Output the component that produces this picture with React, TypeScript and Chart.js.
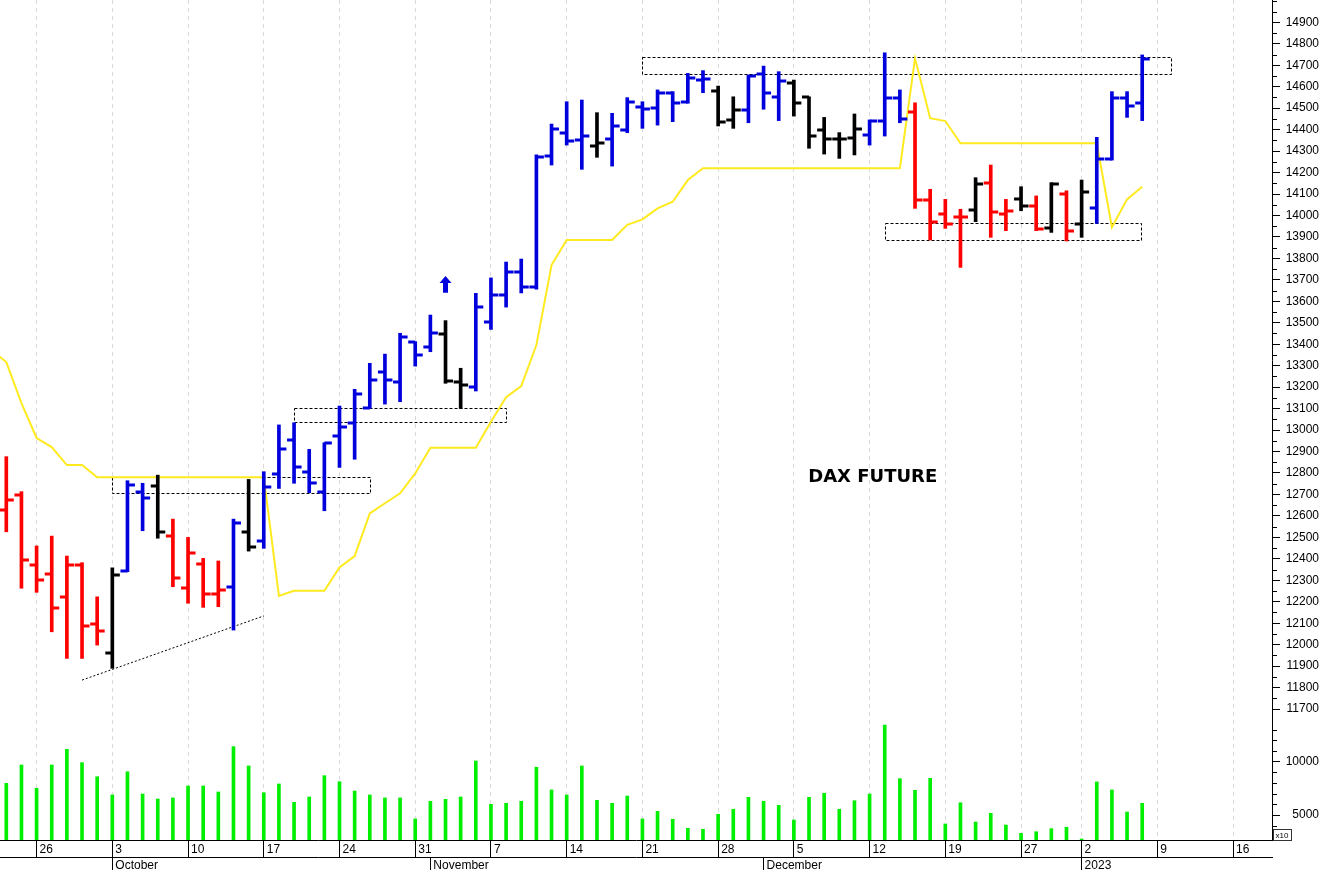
import React, { useEffect, useRef } from 'react';
import { Chart, registerables } from 'chart.js';

Chart.register(...registerables);

// Trading-day index: 0 = 22 Sep 2022 ... 75 = 6 Jan 2023
const opens = [
  12627, 12697,
  12371, 12328, 12223, 12371, 12096,
  11960, 12343, 12713, 12739, 12506,
  12263, 12374, 12235, 12270, 12524,
  12483, 12795, 12954, 12803, 12713,
  12972, 13034, 13101, 13272, 13225,
  13412, 13388, 13448, 13225, 13202,
  13505, 13629, 13736, 13668, 14277,
  14383, 14352, 14324, 14355, 14398,
  14504, 14499, 14572, 14530, 14631,
  14581, 14445, 14491, 14659, 14553,
  14619, 14551, 14398, 14356, 14362,
  14375, 14440, 14549, 14482, 14072,
  14007, 13994, 14025, 14153, 14005,
  14075, 14044, 13943, 14099,
  13959, 14033, 14262, 14549, 14525,
];
const highs = [
  12876, 12713,
  12460, 12506, 12413, 12382, 12223,
  12358, 12764, 12752, 12790, 12585,
  12500, 12402, 12390, 12585, 12770,
  12806, 13024, 13034, 12910, 12941,
  13112, 13190, 13311, 13354, 13451,
  13412, 13536, 13510, 13288, 13637,
  13709, 13783, 13797, 14282, 14426,
  14530, 14538, 14479, 14476, 14549,
  14530, 14585, 14577, 14662, 14675,
  14603, 14553, 14654, 14696, 14670,
  14631, 14553, 14457, 14386, 14473,
  14445, 14758, 14585, 14525, 14122,
  14075, 14029, 14176, 14235, 14075,
  14134, 14091, 14153, 14115,
  14165, 14364, 14577, 14577, 14748,
];
const lows = [
  12526, 12263,
  12244, 12060, 11936, 11936, 11998,
  11890, 12340, 12531, 12496, 12270,
  12193, 12174, 12177, 12068, 12436,
  12449, 12728, 12752, 12708, 12624,
  12826, 12864, 13101, 13121, 13132,
  13298, 13365, 13218, 13101, 13182,
  13469, 13573, 13639, 13656, 14235,
  14328, 14215, 14271, 14230, 14386,
  14406, 14421, 14437, 14523, 14572,
  14417, 14406, 14432, 14495, 14442,
  14463, 14313, 14286, 14266, 14282,
  14328, 14370, 14432, 14033, 13886,
  13940, 13758, 13971, 13898, 13929,
  14022, 13929, 13921, 13881,
  13898, 13963, 14258, 14457, 14442,
];
const closes = [
  12674, 12394,
  12301, 12169, 12371, 12087, 12065,
  12323, 12742, 12682, 12524, 12309,
  12426, 12235, 12255, 12565, 12454,
  12736, 12910, 12826, 12755, 12938,
  13016, 13167, 13233, 13233, 13435,
  13350, 13451, 13228, 13210, 13575,
  13629, 13736, 13667, 14274, 14401,
  14348, 14370, 14336, 14417, 14530,
  14495, 14572, 14523, 14639, 14634,
  14437, 14491, 14651, 14572, 14628,
  14523, 14372, 14356, 14356, 14401,
  14440, 14549, 14449, 14072, 13971,
  13959, 13994, 14145, 14018, 14022,
  14045, 13935, 14145, 13928,
  14111, 14262, 14549, 14510, 14728,
];
// bar colour code: r = red, k = black, b = blue
const trend = [
  'r', 'r',
  'r', 'r', 'r', 'r', 'r',
  'k', 'b', 'b', 'k', 'r',
  'r', 'r', 'r', 'b', 'k',
  'b', 'b', 'b', 'b', 'b',
  'b', 'b', 'b', 'b', 'b',
  'b', 'b', 'k', 'k', 'b',
  'b', 'b', 'b', 'b', 'b',
  'b', 'b', 'k', 'b', 'b',
  'b', 'b', 'b', 'b', 'b',
  'k', 'k', 'b', 'b', 'b',
  'k', 'k', 'k', 'k', 'k',
  'b', 'b', 'b', 'r', 'r',
  'r', 'r', 'k', 'r', 'r',
  'k', 'r', 'k', 'r',
  'k', 'b', 'b', 'b', 'b',
];
const volumes = [
  7970, 9690,
  7510, 9690, 11160, 9910, 8590,
  6880, 9060, 6970, 6500, 6600,
  7720, 7720, 7160, 11410, 9600,
  7090, 7910, 6190, 6690, 8690,
  8120, 7250, 6880, 6600, 6600,
  4630, 6290, 6470, 6690, 10070,
  6000, 6100, 6290, 9480, 7350,
  6880, 9600, 6380, 6100, 6780,
  4630, 5340, 4600, 3750, 3660,
  5070, 5540, 6660, 6290, 5910,
  4530, 6660, 7040, 5540, 6340,
  6970, 13440, 8410, 7320, 8440,
  4160, 6150, 4340, 5160, 4060,
  3280, 3430, 3720, 3850,
  2750, 8100, 7350, 5280, 6100,
];
// trailing stop line, first value is the session before index 0
const trail = [
  13373,
  13317, 13126,
  12963, 12921, 12837, 12837, 12780,
  12780, 12780, 12780, 12780, 12780,
  12780, 12780, 12780, 12780, 12780,
  12780, 12227, 12251, 12251, 12251,
  12360, 12413, 12612, 12659, 12705,
  12798, 12918, 12918, 12918, 12918,
  13039, 13153, 13205, 13396, 13769,
  13886, 13886, 13886, 13886, 13956,
  13982, 14033, 14064, 14165, 14220,
  14220, 14220, 14220, 14220, 14220,
  14220, 14220, 14220, 14220, 14220,
  14220, 14220, 14220, 14732, 14453,
  14440, 14336, 14336, 14336, 14336,
  14336, 14336, 14336, 14336,
  14336, 14336, 13945, 14075, 14134,
];

const weekTickIdx = [2, 7, 12, 17, 22, 27, 32, 37, 42, 47, 52, 57, 62, 67, 71, 76, 81];
const weekTickLabels = ['26', '3', '10', '17', '24', '31', '7', '14', '21', '28', '5', '12', '19', '27', '2', '9', '16'];
const monthTickIdx = [7, 28, 50, 71];
const monthTickLabels = ['October', 'November', 'December', '2023'];
const priceTicks = [
  11700, 11800, 11900, 12000, 12100, 12200, 12300, 12400, 12500, 12600, 12700,
  12800, 12900, 13000, 13100, 13200, 13300, 13400, 13500, 13600, 13700, 13800,
  13900, 14000, 14100, 14200, 14300, 14400, 14500, 14600, 14700, 14800, 14900,
];
const priceMinorTicks = [
  11650, 11750, 11850, 11950, 12050, 12150, 12250, 12350, 12450, 12550, 12650,
  12750, 12850, 12950, 13050, 13150, 13250, 13350, 13450, 13550, 13650, 13750,
  13850, 13950, 14050, 14150, 14250, 14350, 14450, 14550, 14650, 14750, 14850,
  14950, 15000,
];
const volTicks = [5000, 10000];
const volMinorTicks = [4000, 6000, 7000, 8000, 9000, 11000, 12000, 13000];

// annotation zones (dashed boxes)
const zoneStart = [7, 19, 42, 58];
const zoneEnd = [24, 33, 76.9, 74.9];
const zoneLow = [12705, 13039, 14658, 13886];
const zoneHigh = [12780, 13101, 14740, 13963];
const supportFrom = [5, 11835];
const supportTo = [17, 12134];
const arrowAt = [29, 13718, 13640];
const titleAt = [52.95, 12759];

const FONT = "'Liberation Sans', Arial, Helvetica, sans-serif";
const COLORS: Record<string, string> = { r: '#ff0000', k: '#000000', b: '#0000dd' };

export default function App() {
  const ref = useRef<HTMLCanvasElement>(null);

  useEffect(() => {
    document.body.style.margin = '0';
    const canvas = ref.current as HTMLCanvasElement;
    const idx = opens.map((_, i) => i);

    const zeroPad = (s: any) => {
      s.paddingLeft = 0;
      s.paddingRight = 0;
      s.paddingTop = 0;
      s.paddingBottom = 0;
    };

    const overlay = {
      id: 'overlay',
      beforeDatasetsDraw(chart: any) {
        const { ctx, chartArea } = chart;
        const xs = chart.scales.x;
        const ys = chart.scales.y;
        ctx.save();
        ctx.beginPath();
        ctx.rect(chartArea.left, chartArea.top, chartArea.right - chartArea.left, ys.bottom - chartArea.top);
        ctx.clip();
        ctx.strokeStyle = '#000';
        ctx.lineWidth = 1;
        ctx.setLineDash([3, 2]);
        for (let k = 0; k < zoneStart.length; k++) {
          const x0 = Math.round(xs.getPixelForValue(zoneStart[k])) + 0.5;
          const x1 = Math.round(xs.getPixelForValue(zoneEnd[k])) + 0.5;
          const y0 = Math.round(ys.getPixelForValue(zoneHigh[k])) + 0.5;
          const y1 = Math.round(ys.getPixelForValue(zoneLow[k])) + 0.5;
          ctx.strokeRect(x0, y0, x1 - x0, y1 - y0);
        }
        ctx.setLineDash([2, 2]);
        ctx.beginPath();
        ctx.moveTo(xs.getPixelForValue(supportFrom[0]), ys.getPixelForValue(supportFrom[1]));
        ctx.lineTo(xs.getPixelForValue(supportTo[0]), ys.getPixelForValue(supportTo[1]));
        ctx.stroke();
        ctx.restore();
      },
      afterDatasetsDraw(chart: any) {
        const { ctx } = chart;
        const xs = chart.scales.x;
        const ys = chart.scales.y;
        ctx.save();
        for (let i = 0; i < opens.length; i++) {
          const px = xs.getPixelForValue(i);
          ctx.fillStyle = COLORS[trend[i]];
          const po = Math.round(ys.getPixelForValue(opens[i]));
          const pc = Math.round(ys.getPixelForValue(closes[i]));
          ctx.fillRect(px - 7, po - 1.5, 7, 3);
          ctx.fillRect(px, pc - 1.5, 7.5, 3);
        }
        // signal arrow
        const ax = xs.getPixelForValue(arrowAt[0]);
        const yTip = ys.getPixelForValue(arrowAt[1]);
        const yBase = ys.getPixelForValue(arrowAt[2]);
        ctx.fillStyle = '#0000dd';
        ctx.beginPath();
        ctx.moveTo(ax, yTip);
        ctx.lineTo(ax + 6, yTip + 7);
        ctx.lineTo(ax + 2.5, yTip + 7);
        ctx.lineTo(ax + 2.5, yBase);
        ctx.lineTo(ax - 2.5, yBase);
        ctx.lineTo(ax - 2.5, yTip + 7);
        ctx.lineTo(ax - 6, yTip + 7);
        ctx.closePath();
        ctx.fill();
        // title
        ctx.fillStyle = '#000';
        ctx.font = "bold 18px 'DejaVu Sans', Verdana, sans-serif";
        ctx.textAlign = 'left';
        ctx.textBaseline = 'alphabetic';
        ctx.fillText('DAX FUTURE', xs.getPixelForValue(titleAt[0]), ys.getPixelForValue(titleAt[1]));
        ctx.restore();
      },
      afterDraw(chart: any) {
        const { ctx } = chart;
        const yp = chart.scales.y;
        const yv = chart.scales.yv;
        ctx.save();
        ctx.strokeStyle = '#000';
        ctx.lineWidth = 1;
        ctx.beginPath();
        for (const v of priceMinorTicks) {
          const py = Math.round(yp.getPixelForValue(v)) + 0.5;
          if (py < yp.top || py > yp.bottom) continue;
          ctx.moveTo(yp.left, py);
          ctx.lineTo(yp.left + 5, py);
        }
        for (const v of volMinorTicks) {
          const py = Math.round(yv.getPixelForValue(v)) + 0.5;
          if (py < yv.top || py > yv.bottom) continue;
          ctx.moveTo(yv.left, py);
          ctx.lineTo(yv.left + 5, py);
        }
        ctx.stroke();
        ctx.strokeStyle = '#333';
        ctx.strokeRect(yv.left + 1.5, yv.bottom - 10.5, 18, 11);
        ctx.fillStyle = '#000';
        ctx.font = `8px ${FONT}`;
        ctx.textAlign = 'left';
        ctx.textBaseline = 'alphabetic';
        ctx.fillText('x10', yv.left + 3.5, yv.bottom - 2);
        ctx.restore();
      },
    };

    const X_MIN = -0.416;
    const X_MAX = 83.57;

    const chart = new Chart(canvas, {
      type: 'bar',
      data: {
        datasets: [
          {
            type: 'bar',
            label: 'DAX Future',
            data: idx.map((i) => ({ x: i, y: [lows[i], highs[i]] })) as any,
            backgroundColor: idx.map((i) => COLORS[trend[i]]),
            barThickness: 3,
            grouped: false,
            borderWidth: 0,
            xAxisID: 'x',
            yAxisID: 'y',
          } as any,
          {
            type: 'line',
            label: 'Stop',
            data: trail.map((v, k) => ({ x: k - 1, y: v })),
            borderColor: '#ffea1f',
            borderWidth: 2,
            pointRadius: 0,
            tension: 0,
            xAxisID: 'x',
            yAxisID: 'y',
          } as any,
          {
            type: 'bar',
            label: 'Volume',
            data: idx.map((i) => ({ x: i, y: volumes[i] })),
            backgroundColor: '#00ee00',
            barThickness: 3,
            grouped: false,
            borderWidth: 0,
            xAxisID: 'x',
            yAxisID: 'yv',
          } as any,
        ],
      },
      options: {
        responsive: false,
        animation: false,
        devicePixelRatio: 1,
        events: [],
        layout: { padding: 0 },
        plugins: { legend: { display: false }, tooltip: { enabled: false } },
        scales: {
          x: {
            type: 'linear',
            position: 'bottom',
            min: X_MIN,
            max: X_MAX,
            bounds: 'data',
            offset: false,
            afterBuildTicks: (s: any) => {
              s.ticks = weekTickIdx.map((v) => ({ value: v }));
            },
            afterFit: (s: any) => {
              s.height = 17;
              zeroPad(s);
            },
            grid: {
              display: true,
              drawOnChartArea: true,
              offset: false,
              color: '#dadada',
              lineWidth: 1,
              drawTicks: true,
              tickLength: 17,
              tickColor: '#000',
              tickWidth: 1,
            },
            border: { display: true, color: '#000', width: 1, dash: [4, 4] },
            ticks: {
              autoSkip: false,
              maxRotation: 0,
              minRotation: 0,
              align: 'start',
              labelOffset: 3,
              padding: -15,
              color: '#000',
              font: { family: FONT, size: 12 },
              callback: (_v: any, i: number) => weekTickLabels[i],
            },
          } as any,
          x2: {
            type: 'linear',
            position: 'bottom',
            min: X_MIN,
            max: X_MAX,
            bounds: 'data',
            offset: false,
            afterBuildTicks: (s: any) => {
              s.ticks = monthTickIdx.map((v) => ({ value: v }));
            },
            afterFit: (s: any) => {
              s.height = 13;
              zeroPad(s);
            },
            grid: {
              display: true,
              drawOnChartArea: false,
              offset: false,
              drawTicks: true,
              tickLength: 13,
              tickColor: '#000',
              tickWidth: 1,
            },
            border: { display: true, color: '#000', width: 1 },
            ticks: {
              autoSkip: false,
              maxRotation: 0,
              minRotation: 0,
              align: 'start',
              labelOffset: 3,
              padding: -12,
              color: '#000',
              font: { family: FONT, size: 12 },
              callback: (_v: any, i: number) => monthTickLabels[i],
            },
          } as any,
          y: {
            type: 'linear',
            position: 'right',
            stack: 'panes',
            stackWeight: 6,
            min: 11649,
            max: 15004,
            bounds: 'data',
            beginAtZero: false,
            afterBuildTicks: (s: any) => {
              s.ticks = priceTicks.map((v) => ({ value: v }));
            },
            afterFit: (s: any) => {
              s.width = 47;
              zeroPad(s);
            },
            grid: { display: true, drawOnChartArea: false, drawTicks: true, tickLength: 8, tickColor: '#000', tickWidth: 1 },
            border: { display: true, color: '#000', width: 1 },
            ticks: {
              autoSkip: false,
              padding: 3,
              crossAlign: 'far',
              color: '#000',
              font: { family: FONT, size: 12 },
              callback: (v: any) => String(v),
            },
          } as any,
          yv: {
            type: 'linear',
            position: 'right',
            stack: 'panes',
            stackWeight: 1,
            min: 2655,
            max: 13912,
            bounds: 'data',
            beginAtZero: false,
            afterBuildTicks: (s: any) => {
              s.ticks = volTicks.map((v) => ({ value: v }));
            },
            afterFit: (s: any) => {
              s.width = 47;
              zeroPad(s);
            },
            grid: { display: true, drawOnChartArea: false, drawTicks: true, tickLength: 8, tickColor: '#000', tickWidth: 1 },
            border: { display: true, color: '#000', width: 1 },
            ticks: {
              autoSkip: false,
              padding: 3,
              crossAlign: 'far',
              color: '#000',
              font: { family: FONT, size: 12 },
              callback: (v: any) => String(v),
            },
          } as any,
        },
      } as any,
      plugins: [overlay],
    });

    return () => chart.destroy();
  }, []);

  return (
    <div style={{ position: 'absolute', left: 0, top: 0, width: 1319, height: 870 }}>
      <canvas ref={ref} width={1319} height={870} style={{ display: 'block' }} />
    </div>
  );
}
